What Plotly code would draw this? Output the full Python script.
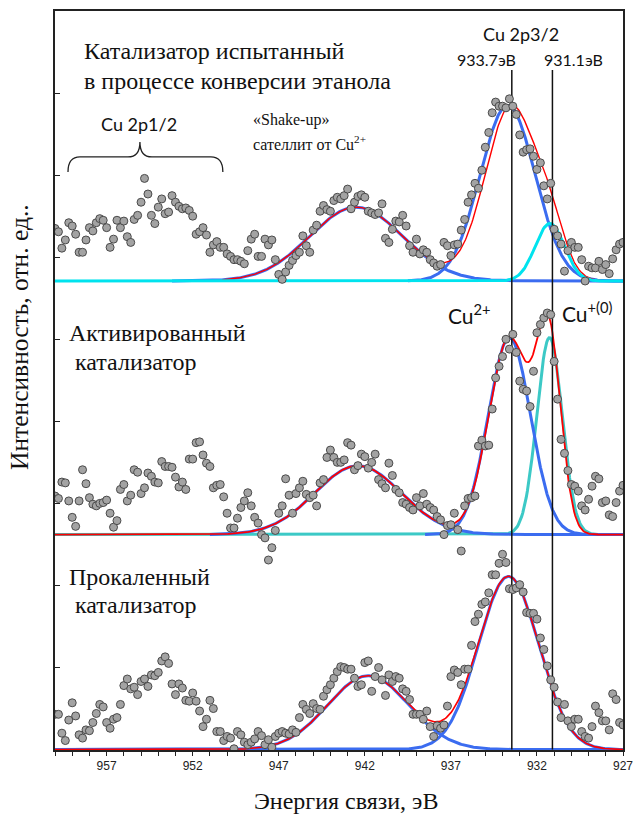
import numpy as np
import plotly.graph_objects as go

# ---------------- data ----------------
energy = [
    960.0, 959.8, 959.6, 959.4, 959.2, 959.0, 958.8, 958.6, 958.4, 958.2,
    958.0, 957.8, 957.6, 957.4, 957.2, 957.0, 956.8, 956.6, 956.4, 956.2,
    956.0, 955.8, 955.6, 955.4, 955.2, 955.0, 954.8, 954.6, 954.4, 954.2,
    954.0, 953.8, 953.6, 953.4, 953.2, 953.0, 952.8, 952.6, 952.4, 952.2,
    952.0, 951.8, 951.6, 951.4, 951.2, 951.0, 950.8, 950.6, 950.4, 950.2,
    950.0, 949.8, 949.6, 949.4, 949.2, 949.0, 948.8, 948.6, 948.4, 948.2,
    948.0, 947.8, 947.6, 947.4, 947.2, 947.0, 946.8, 946.6, 946.4, 946.2,
    946.0, 945.8, 945.6, 945.4, 945.2, 945.0, 944.8, 944.6, 944.4, 944.2,
    944.0, 943.8, 943.6, 943.4, 943.2, 943.0, 942.8, 942.6, 942.4, 942.2,
    942.0, 941.8, 941.6, 941.4, 941.2, 941.0, 940.8, 940.6, 940.4, 940.2,
    940.0, 939.8, 939.6, 939.4, 939.2, 939.0, 938.8, 938.6, 938.4, 938.2,
    938.0, 937.8, 937.6, 937.4, 937.2, 937.0, 936.8, 936.6, 936.4, 936.2,
    936.0, 935.8, 935.6, 935.4, 935.2, 935.0, 934.8, 934.6, 934.4, 934.2,
    934.0, 933.8, 933.6, 933.4, 933.2, 933.0, 932.8, 932.6, 932.4, 932.2,
    932.0, 931.8, 931.6, 931.4, 931.2, 931.0, 930.8, 930.6, 930.4, 930.2,
    930.0, 929.8, 929.6, 929.4, 929.2, 929.0, 928.8, 928.6, 928.4, 928.2,
    928.0, 927.8, 927.6, 927.4, 927.2, 927.0,
]

# "Катализатор испытанный в процессе конверсии этанола" (top spectrum)
tested_intensity = [
    0.64, 0.60, 0.40, 0.50, 0.71, 0.67, 0.57, 0.35, 0.35, 0.50,
    0.65, 0.61, 0.71, 0.76, 0.74, 0.65, 0.41, 0.51, 0.74, 0.65,
    0.73, 0.54, 0.47, 0.75, 0.80, 0.96, 1.25, 1.06, 0.80, 0.70,
    0.90, 1.00, 0.82, 0.84, 1.04, 0.96, 0.91, 0.88, 0.89, 0.86,
    0.79, 0.57, 0.60, 0.65, 0.56, 0.35, 0.44, 0.48, 0.41, 0.41,
    0.33, 0.30, 0.26, 0.26, 0.24, 0.21, 0.37, 0.51, 0.57, 0.30,
    0.30, 0.51, 0.44, 0.50, 0.26, 0.08, 0.02, 0.11, 0.19, 0.25,
    0.31, 0.35, 0.55, 0.43, 0.35, 0.62, 0.68, 0.85, 0.92, 0.87,
    0.85, 0.98, 1.02, 1.00, 1.04, 1.12, 0.88, 0.96, 1.03, 1.05,
    1.02, 0.85, 0.83, 0.81, 0.83, 0.94, 0.52, 0.47, 0.63, 0.73,
    0.72, 0.80, 0.67, 0.43, 0.35, 0.51, 0.33, 0.38, 0.35, 0.26,
    0.22, 0.18, 0.20, 0.47, 0.43, 0.31, 0.44, 0.45, 0.62, 0.75,
    0.96, 1.05, 1.19, 1.13, 1.35, 1.63, 1.81, 2.05, 2.18, 2.13,
    2.13, 2.11, 2.22, 2.13, 2.03, 1.78, 1.57, 1.60, 1.61, 1.52,
    1.36, 1.44, 1.16, 1.00, 1.19, 0.63, 0.55, 0.45, 0.12, 0.37,
    0.47, 0.41, 0.41, 0.26, 0.00, 0.18, 0.16, 0.16, 0.24, 0.14,
    0.20, 0.09, 0.27, 0.38, 0.45, 0.47,
]

# "Активированный катализатор" (middle spectrum)
activated_intensity = [
    0.47, 0.44, 0.64, 0.63, 0.41, 0.21, 0.10, 0.41, 0.79, 0.62,
    0.45, 0.37, 0.35, 0.38, 0.39, 0.42, 0.26, 0.09, 0.17, 0.55,
    0.61, 0.41, 0.48, 0.79, 0.76, 0.50, 0.57, 0.75, 0.71, 0.64,
    0.63, 0.89, 0.83, 0.83, 0.82, 0.70, 0.58, 0.64, 0.55, 0.92,
    0.92, 1.12, 1.13, 0.97, 0.87, 0.83, 0.57, 0.60, 0.61, 0.46,
    0.26, 0.08, 0.08, 0.20, 0.33, 0.41, 0.51, 0.35, 0.21, 0.14,
    0.00, -0.04, -0.31, -0.16, 0.05, 0.26, 0.35, 0.68, 0.48, 0.26,
    0.50, 0.57, 0.65, 0.49, 0.45, 0.48, 0.35, 0.63, 0.67, 0.94,
    1.03, 0.94, 0.88, 0.88, 0.91, 1.12, 1.09, 0.79, 0.84, 0.98,
    0.95, 0.81, 0.88, 0.98, 0.67, 0.62, 0.57, 0.87, 0.72, 0.55,
    0.51, 0.39, 0.37, 0.33, 0.30, 0.45, 0.35, 0.50, 0.37, 0.33,
    0.30, 0.22, 0.18, 0.00, 0.11, 0.12, 0.26, 0.06, -0.20, 0.35,
    0.44, 0.45, 0.47, 1.08, 1.15, 1.08, 1.09, 1.53, 1.91, 2.05,
    2.17, 2.38, 2.26, 2.44, 2.22, 1.87, 1.77, 1.75, 1.56, 1.99,
    2.46, 2.56, 2.64, 2.70, 2.68, 2.11, 1.65, 1.16, 0.99, 0.78,
    0.61, 0.59, 0.53, 0.35, 0.30, 0.43, 0.59, 0.71, 0.68, 0.39,
    0.41, 0.24, 0.22, 0.39, 0.53, 0.60,
]

# "Прокаленный катализатор" (bottom spectrum)
calcined_intensity = [
    0.43, 0.43, 0.20, 0.11, 0.36, 0.57, 0.41, 0.18, 0.14, 0.24,
    0.23, 0.33, 0.44, 0.55, 0.52, 0.33, 0.26, 0.37, 0.39, 0.55,
    0.78, 0.86, 0.74, 0.76, 0.67, 0.83, 0.86, 0.77, 0.91, 0.90,
    0.94, 1.08, 1.13, 1.05, 0.80, 0.67, 0.80, 0.75, 0.60, 0.59,
    0.69, 0.59, 0.47, 0.28, 0.37, 0.60, 0.50, 0.22, 0.22, 0.11,
    0.16, 0.14, 0.01, 0.22, 0.18, 0.09, 0.06, 0.09, 0.13, 0.22,
    0.17, 0.06, 0.12, 0.03, 0.16, 0.20, 0.22, 0.20, 0.19, 0.24,
    0.21, 0.39, 0.55, 0.49, 0.44, 0.56, 0.50, 0.49, 0.65, 0.73,
    0.79, 0.87, 0.95, 1.01, 1.00, 0.98, 0.98, 0.87, 0.77, 0.79,
    1.06, 1.08, 0.71, 0.89, 1.00, 0.85, 0.66, 0.91, 0.83, 0.89,
    0.87, 0.74, 0.71, 0.61, 0.43, 0.43, 0.43, 0.37, 0.47, 0.28,
    0.16, 0.29, 0.26, 0.30, 0.53, 0.89, 0.97, 0.94, 0.79, 0.98,
    0.98, 1.27, 1.56, 1.65, 1.77, 1.80, 1.91, 2.13, 2.13, 2.27,
    2.38, 2.28, 1.96, 1.95, 1.97, 2.01, 1.92, 1.67, 1.66, 1.66,
    1.59, 1.36, 1.22, 1.02, 0.85, 0.76, 0.58, 0.39, 0.55, 0.35,
    0.28, 0.37, 0.37, 0.22, 0.16, 0.14, 0.28, 0.53, 0.45, 0.35,
    0.35, 0.24, 0.68, 0.61, 0.33, 0.30,
]

# vertical offsets of the stacked spectra (axis units)
tested_offset = 5.71
activated_offset = 2.62
calcined_offset = 0.0

# fitted Gaussian components: (centre eV, height, sigma eV)
tested_satellite = (942.5, 0.90, 2.7)
tested_cu2 = (933.7, 2.14, 1.6)
tested_cu1 = (931.25, 0.70, 0.85)
tested_envelope = [(942.5, 0.90, 2.7), (933.5, 2.13, 1.5), (931.2, 0.45, 0.85)]

activated_satellite = (942.4, 0.84, 2.5)
activated_cu2 = (933.6, 2.40, 1.23)
activated_cu1 = (931.27, 2.40, 0.74)
activated_envelope = [(942.4, 0.84, 2.5), (933.6, 2.40, 1.2), (931.3, 2.28, 0.7)]

calcined_satellite = (941.8, 0.90, 2.35)
calcined_cu2 = (933.65, 2.11, 1.75)
calcined_envelope = [(941.8, 0.90, 2.35), (933.65, 2.11, 1.75)]

reference_lines_eV = [933.46, 931.1]
x_tick_values = [957, 952, 947, 942, 937, 932, 927]

# ---------------- styling ----------------
BLUE = "#3b6cf0"
RED = "#ff0000"
CYAN = "#00e3ee"
TURQ = "#3cc9c6"
SERIF = "Liberation Serif"
SANS = "Lato"

W, H = 637, 816
X0, X1 = 960.0, 927.0
Y0, Y1 = 0.0, 9.0
PL, PR, PT, PB = 55, 623.5, 11, 750  # plot area in pixels


def X(px):
    return X0 + (px - PL) * (X1 - X0) / (PR - PL)


def Y(py):
    return Y0 + (PB - py) * (Y1 - Y0) / (PB - PT)


def PX(px):
    return (px - PL) / (PR - PL)


def PY(py):
    return (PB - py) / (PB - PT)


def gauss(x, c, h, s):
    return h * np.exp(-0.5 * ((x - c) / s) ** 2)


def model(x_from, comps, offset):
    xs = np.linspace(x_from, X1, 500)
    ys = sum(gauss(xs, *c) for c in comps) + offset
    return xs, ys


fig = go.Figure()


def add_curve(x_from, comps, offset, color, width):
    xs, ys = model(x_from, comps, offset)
    fig.add_trace(go.Scatter(x=xs, y=ys, mode="lines",
                             line=dict(color=color, width=width),
                             hoverinfo="skip", showlegend=False))


# bottom panel
add_curve(X0, [calcined_satellite], calcined_offset, BLUE, 3)
add_curve(X0, [calcined_cu2], calcined_offset, BLUE, 3)
add_curve(X0, calcined_envelope, calcined_offset, RED, 1.6)

# middle panel
add_curve(X0, [activated_cu1], activated_offset, TURQ, 3)
add_curve(951.0, [activated_satellite], activated_offset, BLUE, 3)
add_curve(938.5, [activated_cu2], activated_offset, BLUE, 3)
add_curve(X0, activated_envelope, activated_offset, RED, 1.8)

# top panel
add_curve(953.2, [tested_satellite], tested_offset, BLUE, 3)
add_curve(939.5, [tested_cu2], tested_offset, BLUE, 3)
add_curve(950.3, tested_envelope, tested_offset, RED, 1.4)
add_curve(X0, [tested_cu1], tested_offset, CYAN, 3)

# reference vertical lines
for e in reference_lines_eV:
    fig.add_trace(go.Scatter(x=[e, e], y=[Y0, Y(70)], mode="lines",
                             line=dict(color="#111111", width=1.5),
                             hoverinfo="skip", showlegend=False))

# data points
for vals, off in [(calcined_intensity, calcined_offset),
                  (activated_intensity, activated_offset),
                  (tested_intensity, tested_offset)]:
    fig.add_trace(go.Scatter(
        x=energy, y=[v + off for v in vals], mode="markers",
        marker=dict(size=8, color="#a3a3a3",
                    line=dict(color="#4a4a4a", width=1)),
        hoverinfo="skip", showlegend=False, cliponaxis=True))

# ---------------- annotations ----------------
ann = []


def label(text, px, py, size, family, xanchor="left", angle=0, color="#111111"):
    ann.append(dict(text=text, x=PX(px), y=PY(py), xref="paper", yref="paper",
                    xanchor=xanchor, yanchor="middle", showarrow=False,
                    textangle=angle,
                    font=dict(size=size, family=family, color=color)))


label("Катализатор испытанный", 82, 51, 24, SERIF)
label("в процессе конверсии этанола", 82, 81, 24, SERIF)
label("Cu 2p1/2", 139, 124, 18, SANS, "center")
label("«Shake-up»", 251, 120, 16, SERIF)
label("сателлит от Cu<sup>2+</sup>", 251, 143, 16, SERIF)
label("Cu 2p3/2", 521, 34, 18, SANS, "center")
label("933.7эВ", 487, 59, 16, SANS, "center")
label("931.1эВ", 574, 59, 16, SANS, "center")
label("Cu<sup>2+</sup>", 470, 314, 21, SANS, "center")
label("Cu<sup>+(0)</sup>", 588, 312, 21, SANS, "center")
label("Активированный", 67, 333, 24, SERIF)
label("катализатор", 73, 362, 24, SERIF)
label("Прокаленный", 67, 577, 24, SERIF)
label("катализатор", 73, 605, 24, SERIF)
label("Интенсивность, отн. ед..", 19, 337, 25.5, SERIF, "center", -90)
label("Энергия связи, эВ", 346, 801, 24, SERIF, "center")

# curly brace above Cu 2p1/2 region
bl, br, bc = X(68), X(223), X(140)
yb, ym, yt = Y(172), Y(157), Y(142)
dx = X(68) - X(80)
brace = (f"M {bl},{yb} Q {bl},{ym} {bl - dx},{ym} L {bc + dx},{ym} "
         f"Q {bc},{ym} {bc},{yt} Q {bc},{ym} {bc - dx},{ym} "
         f"L {br + dx},{ym} Q {br},{ym} {br},{yb}")

fig.update_layout(
    width=W, height=H, autosize=False,
    margin=dict(l=PL, r=W - PR, t=PT, b=H - PB, autoexpand=False),
    paper_bgcolor="white", plot_bgcolor="white",
    showlegend=False,
    annotations=ann,
    shapes=[dict(type="path", path=brace, xref="x", yref="y",
                 line=dict(color="#222222", width=1.3))],
    xaxis=dict(range=[X0, X1], tickmode="array", tickvals=x_tick_values,
               ticktext=[str(v) for v in x_tick_values],
               ticks="outside", ticklen=4, tickwidth=1, tickcolor="#222222",
               minor=dict(ticks="outside", ticklen=4, tickwidth=1,
                          tickcolor="#222222", tickmode="linear",
                          tick0=927, dtick=1),
               showline=True, linecolor="#222222", linewidth=1.5, mirror=True,
               showgrid=False, zeroline=False, automargin=False,
               tickfont=dict(family="Liberation Sans", size=12, color="#222222")),
    yaxis=dict(range=[Y0 - 0.005, Y1], tickmode="linear", tick0=0, dtick=1,
               ticks="inside", ticklen=5, tickwidth=1, tickcolor="#222222",
               showticklabels=False, automargin=False,
               showline=True, linecolor="#222222", linewidth=1.5, mirror=True,
               showgrid=False, zeroline=False),
)

fig.write_html("out.html")
